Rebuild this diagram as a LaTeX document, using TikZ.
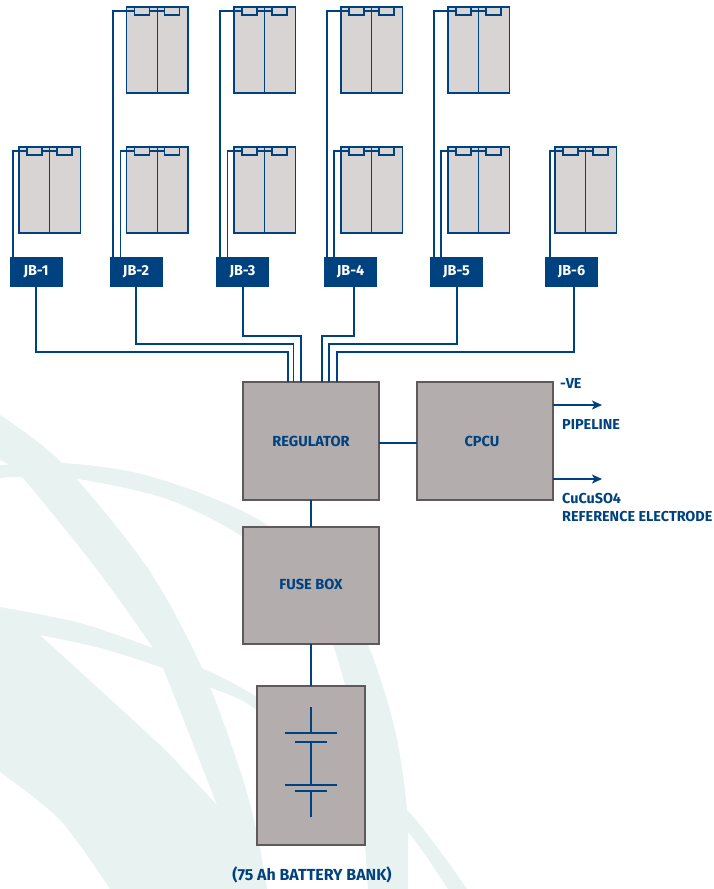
\documentclass[tikz,border=0pt]{standalone}
\usepackage{fontspec}
\setmainfont{Fira Sans}
\usetikzlibrary{arrows.meta}
\definecolor{navy}{HTML}{00427F}
\definecolor{swoosh}{HTML}{E8F3F1}
\definecolor{cellgrey}{HTML}{D8D4D4}
\definecolor{boxgrey}{HTML}{B3ADAD}
\definecolor{boxedge}{HTML}{5F595B}
\tikzset{
  wire/.style={navy, line width=1.2pt},
  cell/.style={draw=navy, fill=cellgrey, line width=1.2pt, minimum width=30.7pt, minimum height=86pt, inner sep=0pt, outer sep=0pt, anchor=north west},
  term/.style={draw=navy, fill=cellgrey, line width=1.2pt, minimum width=15pt, minimum height=8pt, inner sep=0pt, outer sep=0pt, anchor=north west},
  jbox/.style={fill=navy, text=white, minimum width=53pt, minimum height=30pt, inner sep=0pt, outer sep=0pt, font=\bfseries\fontsize{14.4}{16}\selectfont},
  unit/.style={draw=boxedge, fill=boxgrey, line width=1.8pt, inner sep=0pt, outer sep=0pt, text=navy, font=\bfseries\fontsize{14.6}{16}\selectfont},
  caption/.style={text=navy, inner sep=0pt, anchor=west, align=left, font=\bfseries\fontsize{14.4}{18}\selectfont}
}
% #1 name, #2 left, #3 top
\newcommand{\panelpair}[3]{
  \node[cell] (#1l) at (#2,#3) {};
  \node[cell] (#1r) at (#2+30.7,#3) {};
  \node[term] (#1a) at (#2+8,#3) {};
  \node[term] (#1b) at (#2+38,#3) {};
  \draw[wire] (#1a.east) -- (#1b.west);
}
\begin{document}
\begin{tikzpicture}[x=1pt, y=-1pt]
  \useasboundingbox (0,0) rectangle (714,889);

  % swooshes behind the diagram
  \fill[swoosh] plot[smooth] coordinates {(0,415) (62,463) (147,567) (202,668) (240,770) (257,833) (267,889)}
    -- (200,889) -- (217,805) -- plot[smooth] coordinates {(217,805) (163,668) (153,648) (95,567) (22,477) (0,460)} -- cycle;
  \fill[swoosh] plot[smooth] coordinates {(0,465) (62,463) (133,472) (200,493) (267,525) (330,585) (368,645) (395,730) (407,810) (408,889)}
    -- (368,889) -- (365,845) -- plot[smooth] coordinates {(366,770) (333,645) (295,585) (243,537) (167,499) (78,479) (22,477) (0,478)} -- cycle;
  \fill[swoosh] plot[smooth] coordinates {(0,607) (80,623) (153,648) (202,668) (257,697) (330,750) (407,810) (467,889)}
    -- (448,889) -- plot[smooth] coordinates {(448,889) (408,832) (366,797) (257,710) (212,688) (163,668) (100,648) (40,635)} -- cycle;
  \fill[swoosh] (0,607) -- plot[smooth] coordinates {(40,635) (133,720) (170,755) (217,805)}
    -- (267,889) -- (110,889) -- plot[smooth] coordinates {(110,889) (60,820) (0,772)} -- cycle;

  \node[jbox] (jb1) at (36,272) {JB-1};
  \node[jbox] (jb2) at (136,272) {JB-2};
  \node[jbox] (jb3) at (242.5,272) {JB-3};
  \node[jbox] (jb4) at (350.5,272) {JB-4};
  \node[jbox] (jb5) at (456.5,272) {JB-5};
  \node[jbox] (jb6) at (571.5,272) {JB-6};

  \panelpair{pa}{19}{147}
  \panelpair{pb}{126.5}{147}
  \panelpair{pc}{234}{147}
  \panelpair{pd}{341}{147}
  \panelpair{pe}{448}{147}
  \panelpair{pf}{555}{147}
  \panelpair{qb}{126.5}{7}
  \panelpair{qc}{234}{7}
  \panelpair{qd}{341}{7}
  \panelpair{qe}{448}{7}

  % panel strings
  \draw[wire] ([xshift=-23]jb1.north) |- (paa.west);
  \draw[wire] ([xshift=-15.5]jb2.north) |- (pba.west);
  \draw[wire] ([xshift=-23]jb2.north) |- (qba.west);
  \draw[wire] ([xshift=-15]jb3.north) |- (pca.west);
  \draw[wire] ([xshift=-22.5]jb3.north) |- (qca.west);
  \draw[wire] ([xshift=-16.5]jb4.north) |- (pda.west);
  \draw[wire] ([xshift=-23.5]jb4.north) |- (qda.west);
  \draw[wire] ([xshift=-15.5]jb5.north) |- (pea.west);
  \draw[wire] ([xshift=-22.5]jb5.north) |- (qea.west);
  \draw[wire] ([xshift=-21.5]jb6.north) |- (pfa.west);

  \node[unit, minimum width=136pt, minimum height=118pt] (regulator) at (311,441) {REGULATOR};
  \node[unit, minimum width=136pt, minimum height=118pt] (cpcu) at (485,441) {\mbox{CPCU\hspace{6pt}}};
  \node[unit, minimum width=136pt, minimum height=117pt] (fusebox) at (311,585.5) {\raisebox{2.5pt}{FUSE BOX}};
  \node[unit, minimum width=108pt, minimum height=159pt] (battery) at (311,765.5) {};

  % home runs into the regulator
  \draw[wire] (jb1.south) |- (288,352) -- ([xshift=-23]regulator.north);
  \draw[wire] (jb2.south) |- (293.7,344) -- ([xshift=-17.3]regulator.north);
  \draw[wire] ([xshift=.5]jb3.south) |- (301,336) -- ([xshift=-10]regulator.north);
  \draw[wire] ([xshift=3.5]jb4.south) |- (322,336) -- ([xshift=11]regulator.north);
  \draw[wire] ([xshift=.5]jb5.south) |- (329,344) -- ([xshift=18]regulator.north);
  \draw[wire] ([xshift=2.5]jb6.south) |- (337,352) -- ([xshift=26]regulator.north);

  \draw[wire] ([yshift=-2]regulator.east) -- ([yshift=-2]cpcu.west);
  \draw[wire] (regulator.south) -- (fusebox.north);
  \draw[wire] (fusebox.south) -- (battery.north);

  % cell symbol
  \coordinate (cellA) at (311,707);
  \coordinate (cellB) at (311,733);
  \coordinate (cellC) at (311,742);
  \coordinate (cellD) at (311,785);
  \coordinate (cellE) at (311,791);
  \coordinate (cellF) at (311,817);
  \draw[wire, line width=1.5pt] (cellA) -- (cellB);
  \draw[wire, line width=1.5pt] (cellC) -- (cellD);
  \draw[wire, line width=1.5pt] (cellE) -- (cellF);
  \draw[wire, line width=1.5pt] ([xshift=-26]cellB) -- ([xshift=26]cellB);
  \draw[wire, line width=1.5pt] ([xshift=-16]cellC) -- ([xshift=16]cellC);
  \draw[wire, line width=1.5pt] ([xshift=-26]cellD) -- ([xshift=26]cellD);
  \draw[wire, line width=1.5pt] ([xshift=-16]cellE) -- ([xshift=16]cellE);

  \coordinate (pipeEnd) at (602,405);
  \coordinate (refEnd) at (602,479);
  \draw[wire, -{Stealth[length=10pt, width=9pt, inset=2.5pt]}] (cpcu.east |- pipeEnd) -- (pipeEnd);
  \draw[wire, -{Stealth[length=10pt, width=9pt, inset=2.5pt]}] (cpcu.east |- refEnd) -- (refEnd);

  \node[caption] (negative) at (560,384) {-VE};
  \node[caption] (pipeline) at (562,425) {PIPELINE};
  \node[caption] (reference) at (562,508) {CuCuSO4\\REFERENCE ELECTRODE};
  \node[caption, anchor=center, font=\bfseries\fontsize{16}{18}\selectfont] (bank) at (312,875) {(75 Ah BATTERY BANK)};
\end{tikzpicture}
\end{document}
